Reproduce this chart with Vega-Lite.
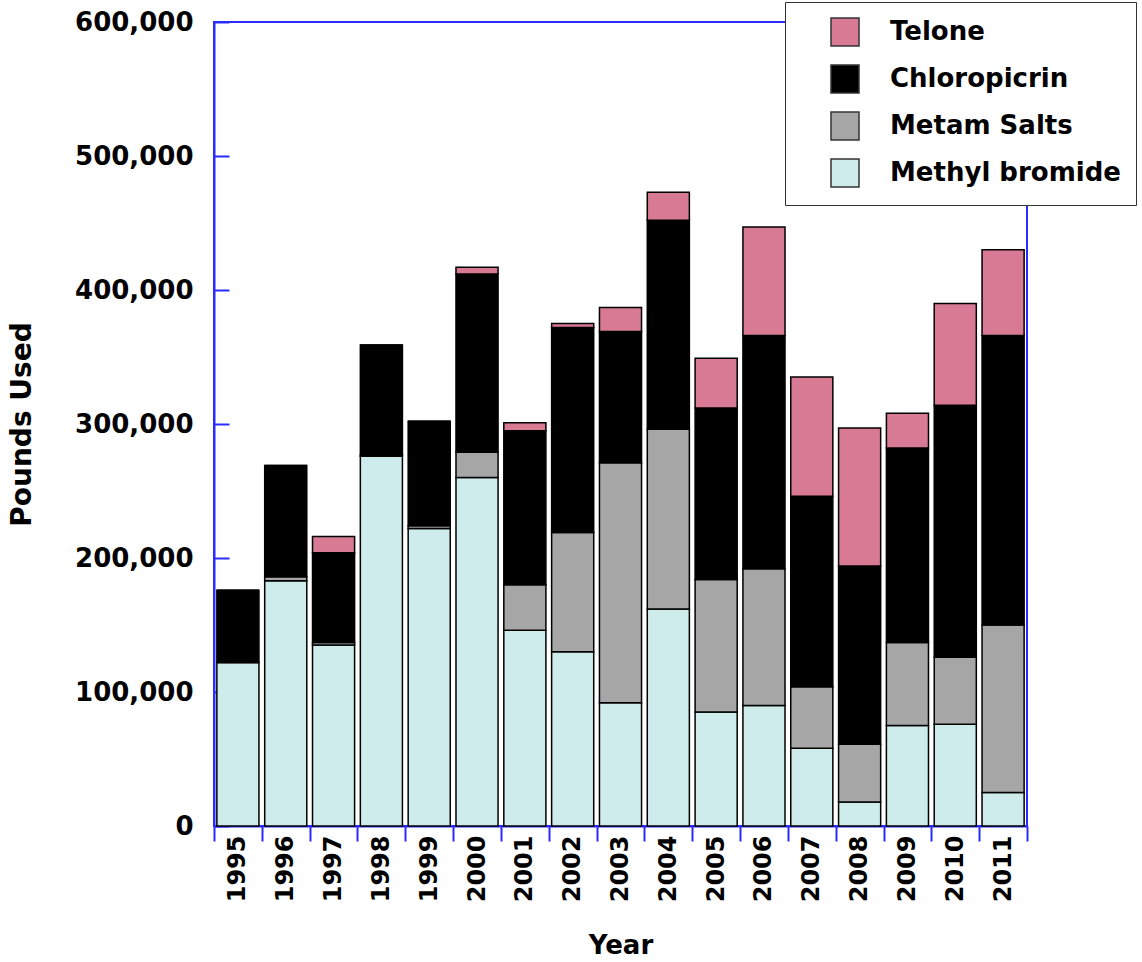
{
  "$schema": "https://vega.github.io/schema/vega-lite/v6.json",
  "width": 813,
  "height": 804,
  "autosize": {"type": "none"},
  "padding": {"left": 214, "top": 22, "right": 115, "bottom": 136},
  "config": {
    "font": "DejaVu Sans",
    "view": {"stroke": "#2B2BFF", "strokeWidth": 2}
  },
  "data": {
    "values": [
      {"year": "1995", "agent": "Methyl bromide", "k": 1, "lbs": 122000},
      {"year": "1995", "agent": "Metam Salts", "k": 2, "lbs": 0},
      {"year": "1995", "agent": "Chloropicrin", "k": 3, "lbs": 54000},
      {"year": "1995", "agent": "Telone", "k": 4, "lbs": 0},
      {"year": "1996", "agent": "Methyl bromide", "k": 1, "lbs": 183000},
      {"year": "1996", "agent": "Metam Salts", "k": 2, "lbs": 3000},
      {"year": "1996", "agent": "Chloropicrin", "k": 3, "lbs": 83000},
      {"year": "1996", "agent": "Telone", "k": 4, "lbs": 0},
      {"year": "1997", "agent": "Methyl bromide", "k": 1, "lbs": 135000},
      {"year": "1997", "agent": "Metam Salts", "k": 2, "lbs": 2000},
      {"year": "1997", "agent": "Chloropicrin", "k": 3, "lbs": 67000},
      {"year": "1997", "agent": "Telone", "k": 4, "lbs": 12000},
      {"year": "1998", "agent": "Methyl bromide", "k": 1, "lbs": 276000},
      {"year": "1998", "agent": "Metam Salts", "k": 2, "lbs": 1000},
      {"year": "1998", "agent": "Chloropicrin", "k": 3, "lbs": 82000},
      {"year": "1998", "agent": "Telone", "k": 4, "lbs": 0},
      {"year": "1999", "agent": "Methyl bromide", "k": 1, "lbs": 222000},
      {"year": "1999", "agent": "Metam Salts", "k": 2, "lbs": 2000},
      {"year": "1999", "agent": "Chloropicrin", "k": 3, "lbs": 78000},
      {"year": "1999", "agent": "Telone", "k": 4, "lbs": 0},
      {"year": "2000", "agent": "Methyl bromide", "k": 1, "lbs": 260000},
      {"year": "2000", "agent": "Metam Salts", "k": 2, "lbs": 19000},
      {"year": "2000", "agent": "Chloropicrin", "k": 3, "lbs": 133000},
      {"year": "2000", "agent": "Telone", "k": 4, "lbs": 5000},
      {"year": "2001", "agent": "Methyl bromide", "k": 1, "lbs": 146000},
      {"year": "2001", "agent": "Metam Salts", "k": 2, "lbs": 34000},
      {"year": "2001", "agent": "Chloropicrin", "k": 3, "lbs": 115000},
      {"year": "2001", "agent": "Telone", "k": 4, "lbs": 6000},
      {"year": "2002", "agent": "Methyl bromide", "k": 1, "lbs": 130000},
      {"year": "2002", "agent": "Metam Salts", "k": 2, "lbs": 89000},
      {"year": "2002", "agent": "Chloropicrin", "k": 3, "lbs": 153000},
      {"year": "2002", "agent": "Telone", "k": 4, "lbs": 3000},
      {"year": "2003", "agent": "Methyl bromide", "k": 1, "lbs": 92000},
      {"year": "2003", "agent": "Metam Salts", "k": 2, "lbs": 179000},
      {"year": "2003", "agent": "Chloropicrin", "k": 3, "lbs": 98000},
      {"year": "2003", "agent": "Telone", "k": 4, "lbs": 18000},
      {"year": "2004", "agent": "Methyl bromide", "k": 1, "lbs": 162000},
      {"year": "2004", "agent": "Metam Salts", "k": 2, "lbs": 134000},
      {"year": "2004", "agent": "Chloropicrin", "k": 3, "lbs": 156000},
      {"year": "2004", "agent": "Telone", "k": 4, "lbs": 21000},
      {"year": "2005", "agent": "Methyl bromide", "k": 1, "lbs": 85000},
      {"year": "2005", "agent": "Metam Salts", "k": 2, "lbs": 99000},
      {"year": "2005", "agent": "Chloropicrin", "k": 3, "lbs": 128000},
      {"year": "2005", "agent": "Telone", "k": 4, "lbs": 37000},
      {"year": "2006", "agent": "Methyl bromide", "k": 1, "lbs": 90000},
      {"year": "2006", "agent": "Metam Salts", "k": 2, "lbs": 102000},
      {"year": "2006", "agent": "Chloropicrin", "k": 3, "lbs": 174000},
      {"year": "2006", "agent": "Telone", "k": 4, "lbs": 81000},
      {"year": "2007", "agent": "Methyl bromide", "k": 1, "lbs": 58000},
      {"year": "2007", "agent": "Metam Salts", "k": 2, "lbs": 46000},
      {"year": "2007", "agent": "Chloropicrin", "k": 3, "lbs": 142000},
      {"year": "2007", "agent": "Telone", "k": 4, "lbs": 89000},
      {"year": "2008", "agent": "Methyl bromide", "k": 1, "lbs": 18000},
      {"year": "2008", "agent": "Metam Salts", "k": 2, "lbs": 43000},
      {"year": "2008", "agent": "Chloropicrin", "k": 3, "lbs": 133000},
      {"year": "2008", "agent": "Telone", "k": 4, "lbs": 103000},
      {"year": "2009", "agent": "Methyl bromide", "k": 1, "lbs": 75000},
      {"year": "2009", "agent": "Metam Salts", "k": 2, "lbs": 62000},
      {"year": "2009", "agent": "Chloropicrin", "k": 3, "lbs": 145000},
      {"year": "2009", "agent": "Telone", "k": 4, "lbs": 26000},
      {"year": "2010", "agent": "Methyl bromide", "k": 1, "lbs": 76000},
      {"year": "2010", "agent": "Metam Salts", "k": 2, "lbs": 50000},
      {"year": "2010", "agent": "Chloropicrin", "k": 3, "lbs": 188000},
      {"year": "2010", "agent": "Telone", "k": 4, "lbs": 76000},
      {"year": "2011", "agent": "Methyl bromide", "k": 1, "lbs": 25000},
      {"year": "2011", "agent": "Metam Salts", "k": 2, "lbs": 125000},
      {"year": "2011", "agent": "Chloropicrin", "k": 3, "lbs": 216000},
      {"year": "2011", "agent": "Telone", "k": 4, "lbs": 64000}
    ]
  },
  "mark": {"type": "bar", "stroke": "#000000", "strokeWidth": 1.5, "width": {"band": 0.88}},
  "encoding": {
    "x": {
      "field": "year",
      "type": "ordinal",
      "scale": {"paddingInner": 0, "paddingOuter": 0},
      "axis": {
        "title": "Year",
        "titleFont": "DejaVu Sans",
        "titleFontSize": 26,
        "titleFontWeight": "bold",
        "titleColor": "#000000",
        "titleY": 119,
        "titleBaseline": "middle",
        "labelAngle": -90,
        "labelFont": "DejaVu Sans",
        "labelFontSize": 24,
        "labelFontWeight": "bold",
        "labelColor": "#000000",
        "labelPadding": -6,
        "tickBand": "extent",
        "tickSize": 15,
        "tickWidth": 2,
        "tickColor": "#2B2BFF",
        "domainColor": "#2B2BFF",
        "domainWidth": 2,
        "grid": false
      }
    },
    "y": {
      "field": "lbs",
      "type": "quantitative",
      "stack": "zero",
      "scale": {"domain": [0, 600000], "nice": false},
      "axis": {
        "title": "Pounds Used",
        "titleFont": "DejaVu Sans",
        "titleFontSize": 28,
        "titleFontWeight": "bold",
        "titleColor": "#000000",
        "titleX": -192,
        "titleBaseline": "middle",
        "values": [0, 100000, 200000, 300000, 400000, 500000, 600000],
        "labelExpr": "format(datum.value, ',d')",
        "labelFont": "DejaVu Sans",
        "labelFontSize": 26,
        "labelFontWeight": "bold",
        "labelColor": "#000000",
        "labelPadding": 36,
        "tickSize": -15,
        "tickWidth": 2,
        "tickColor": "#2B2BFF",
        "domainColor": "#2B2BFF",
        "domainWidth": 2,
        "grid": false
      }
    },
    "color": {
      "field": "agent",
      "type": "nominal",
      "scale": {
        "domain": ["Telone", "Chloropicrin", "Metam Salts", "Methyl bromide"],
        "range": ["#D87A93", "#000000", "#A6A6A6", "#CFECEC"]
      },
      "legend": {
        "title": null,
        "orient": "none",
        "legendX": 571,
        "legendY": -20,
        "strokeColor": "#333333",
        "fillColor": "#FFFFFF",
        "padding": 15,
        "symbolType": "square",
        "symbolSize": 784,
        "symbolStrokeColor": "#333333",
        "symbolStrokeWidth": 1.5,
        "symbolOffset": 30,
        "labelFont": "DejaVu Sans",
        "labelFontSize": 26,
        "labelFontWeight": "bold",
        "labelColor": "#000000",
        "labelOffset": 30,
        "labelLimit": 400,
        "rowPadding": 13
      }
    },
    "order": {"field": "k", "type": "quantitative", "sort": "ascending"}
  }
}
